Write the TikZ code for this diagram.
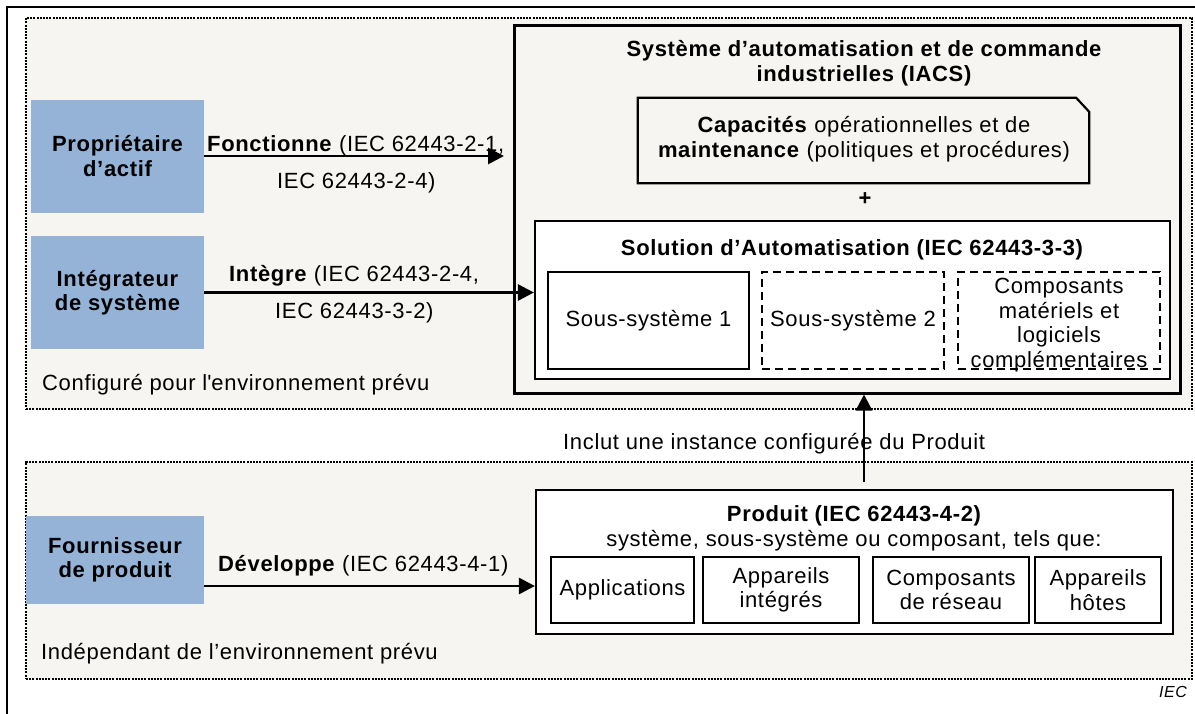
\documentclass[tikz,border=0pt]{standalone}
\usepackage{fontspec}
\setmainfont[LetterSpace=3]{Liberation Sans}
\usetikzlibrary{arrows.meta}
\definecolor{bg}{HTML}{F6F5F1}
\definecolor{actor}{HTML}{95B3D7}
\newcommand{\bigsize}{\fontsize{22}{24.5}\selectfont}
\tikzset{
  region/.style={draw, line width=2pt, dash pattern=on 2pt off 1.2pt, fill=bg, inner sep=0pt},
  actorbox/.style={fill=actor, align=center, font=\bigsize\bfseries, inner sep=0pt},
  solidbox/.style={draw, line width=2.2pt, fill=white, align=center, inner sep=0pt},
  dashbox/.style={draw, line width=2.2pt, dash pattern=on 8pt off 5pt, fill=white, align=center, inner sep=0pt},
  arr/.style={line width=2.8pt, -{Triangle[length=16pt,width=16pt]}},
  lbl/.style={inner sep=0pt, anchor=base west},
  boldtxt/.style={font=\bigsize\bfseries},
}
\begin{document}
\begin{tikzpicture}[x=1pt,y=-1pt,font=\bigsize]
\useasboundingbox (0,0) rectangle (1195,713);
\clip (0,0) rectangle (1195,713);
\fill[white] (0,0) rectangle (1195,713);
% outer frame
\draw[line width=2.2pt] (7,730) -- (7,7) -- (1210,7);
% regions
\node[region, minimum width=1166pt, minimum height=391pt] (upper) at (609,213.5) {};
\node[region, minimum width=1166pt, minimum height=217pt] (lower) at (609,570.5) {};
% IACS
\node[draw, line width=3pt, fill=bg, inner sep=0pt, minimum width=666pt, minimum height=368pt] (iacs) at (847,209) {};
\node[align=center, boldtxt, inner sep=0pt] (iacst) at (864,63) {Système d’automatisation et de commande\\industrielles (IACS)};
% Capacites
\node[inner sep=0pt, minimum width=451pt, minimum height=85pt, align=center] (cap) at (863.5,140.5) {};
\draw[line width=2.2pt, fill=bg] (cap.north west) -- ([xshift=-13pt]cap.north east) -- ([yshift=-14pt]cap.north east) -- (cap.south east) -- (cap.south west) -- cycle;
\node[align=center, inner sep=0pt] (capt) at (864,139) {\textbf{Capacités} opérationnelles et de\\\textbf{maintenance} (politiques et procédures)};
\node[boldtxt, inner sep=0pt] (plus) at (865,199) {+};
% Solution
\node[solidbox, minimum width=635pt, minimum height=158pt] (sol) at (852.5,300) {};
\node[inner sep=0pt, anchor=base, boldtxt] (solt) at (852,255) {Solution d’Automatisation (IEC 62443-3-3)};
\node[solidbox, minimum width=201pt, minimum height=97pt] (ss1) at (648.5,320.5) {Sous-système 1};
\node[dashbox, minimum width=182pt, minimum height=97pt] (ss2) at (853,320.5) {Sous-système 2};
\node[dashbox, minimum width=202pt, minimum height=97pt] (comp) at (1059,320.5) {};
\node[align=center, inner sep=0pt] (compt) at (1059,325) {Composants\\matériels et\\logiciels\\complémentaires};
% actors
\node[actorbox, minimum width=173pt, minimum height=113pt] (prop) at (117.5,156) {Propriétaire\\d’actif};
\node[actorbox, minimum width=173pt, minimum height=113pt] (integ) at (117.5,292.5) {Intégrateur\\de système};
\node[actorbox, minimum width=178pt, minimum height=88pt] (four) at (115,560) {Fournisseur\\de produit};
% Produit
\node[solidbox, minimum width=637pt, minimum height=144pt] (prod) at (854.5,562) {};
\node[inner sep=0pt, anchor=base, boldtxt] (prodt) at (854,521) {Produit (IEC 62443-4-2)};
\node[inner sep=0pt, anchor=base] (prods) at (854,546) {système, sous-système ou composant, tels que:};
\node[solidbox, minimum width=143pt, minimum height=66pt] (apps) at (622.5,590) {Applications};
\node[solidbox, minimum width=156pt, minimum height=66pt] (appint) at (781,590) {Appareils\\intégrés};
\node[solidbox, minimum width=156pt, minimum height=66pt] (compres) at (951,590) {Composants\\de réseau};
\node[solidbox, minimum width=126pt, minimum height=66pt] (apphot) at (1098,590) {Appareils\\hôtes};
% arrows
\coordinate (a1end) at (504,156);
\draw[arr] (prop.east |- a1end) -- (a1end);
\draw[arr] (integ.east) -- (integ.east -| sol.west);
\coordinate (a3y) at (0,586);
\draw[arr] (four.east |- a3y) -- (prod.west |- a3y);
\coordinate (a4x) at (864,0);
\draw[arr] ([yshift=7pt]prod.north -| a4x) -- (iacs.south -| a4x);
% labels
\node[lbl] (l1) at (207,151) {\textbf{Fonctionne} (IEC 62443-2-1,};
\node[lbl] (l1b) at (277,188) {IEC 62443-2-4)};
\node[lbl] (l2) at (229,281) {\textbf{Intègre} (IEC 62443-2-4,};
\node[lbl] (l2b) at (275,318) {IEC 62443-3-2)};
\node[lbl] (l3) at (218,571) {\textbf{Développe} (IEC 62443-4-1)};
\node[lbl] (conf) at (42,390) {Configuré pour l\textquotesingle environnement prévu};
\node[lbl] (indep) at (41,659) {Indépendant de l’environnement prévu};
\node[lbl] (incl) at (563,449) {Inclut une instance configurée du Produit};
\node[inner sep=0pt, anchor=base east, font=\fontsize{16}{18}\selectfont\itshape] (iec) at (1187,697) {IEC};
\end{tikzpicture}
\end{document}
